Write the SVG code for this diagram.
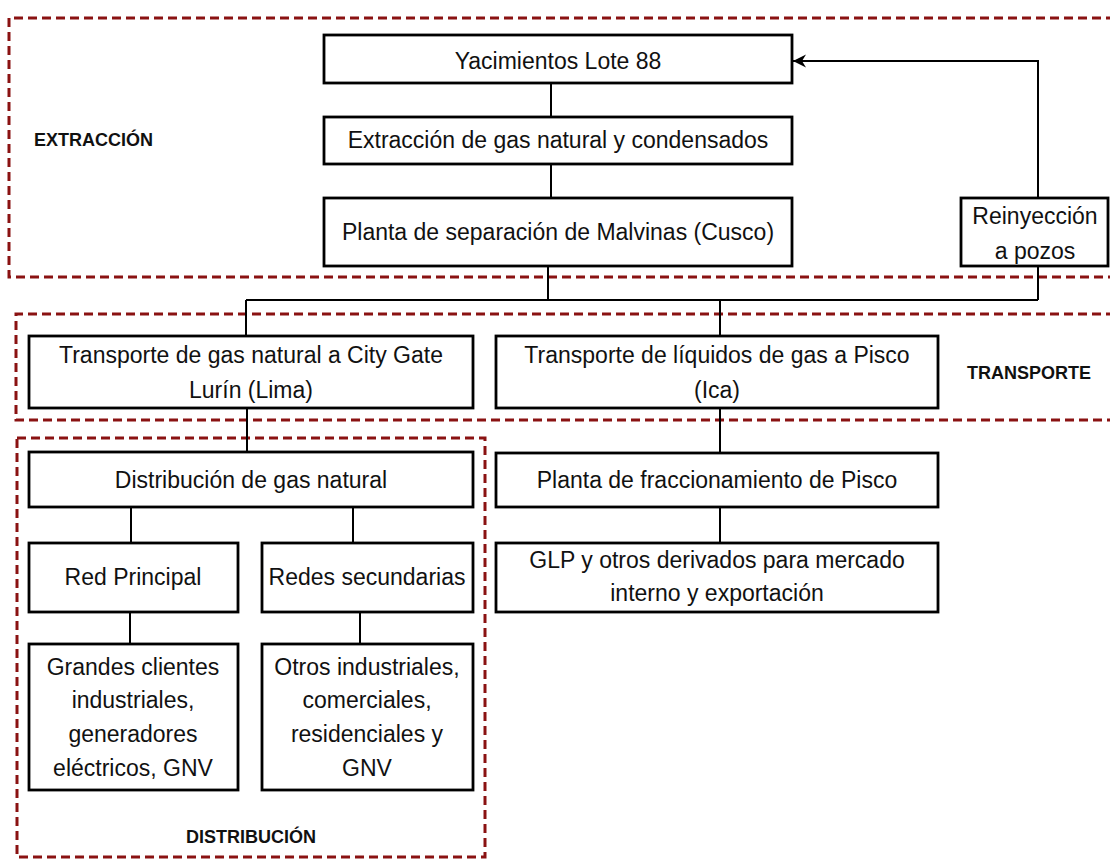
<svg xmlns="http://www.w3.org/2000/svg" width="1110" height="859" viewBox="0 0 1110 859">
<style>
.box{fill:#fff;stroke:#000;stroke-width:2.8}
.t{font-family:"Liberation Sans",Arial,sans-serif;font-size:23px;fill:#111;text-anchor:middle}
.lbl{font-family:"Liberation Sans",Arial,sans-serif;font-size:18px;font-weight:bold;fill:#111}
.zone{fill:none;stroke:#8a1212;stroke-width:3;stroke-dasharray:9 5}
.c{fill:none;stroke:#000;stroke-width:2}
</style>
<defs>
<marker id="arr" markerWidth="16" markerHeight="16" refX="14" refY="8" orient="auto" markerUnits="userSpaceOnUse">
<path d="M14,8 L1,1.5 L5,8 L1,14.5 Z" fill="#000"/>
</marker>
</defs>
<g id="zones">
<path class="zone" d="M1115,18 H9 V277 H1115"/>
<path class="zone" d="M1115,314 H16 V420 H1115"/>
<rect class="zone" x="17" y="438" width="468" height="419"/>
</g>
<g id="connectors">
<path class="c" d="M551,83 V117"/>
<path class="c" d="M551,164 V198"/>
<path class="c" d="M548,266 V300"/>
<path class="c" d="M246,300 H1038"/>
<path class="c" d="M1038,266 V300"/>
<path class="c" d="M1038,198 V61 H793" marker-end="url(#arr)"/>
<path class="c" d="M246,300 V336"/>
<path class="c" d="M720,300 V336"/>
<path class="c" d="M247,408 V452"/>
<path class="c" d="M720,408 V453"/>
<path class="c" d="M131,507 V543"/>
<path class="c" d="M353,507 V543"/>
<path class="c" d="M720,507 V543"/>
<path class="c" d="M130,612 V644"/>
<path class="c" d="M360,612 V644"/>
</g>
<g id="n-yacimientos"><rect class="box" x="324" y="35" width="468" height="48"/><text class="t" x="558" y="69">Yacimientos Lote 88</text></g>
<g id="n-extraccion"><rect class="box" x="324" y="117" width="468" height="47"/><text class="t" x="558" y="148">Extracción de gas natural y condensados</text></g>
<g id="n-planta-sep"><rect class="box" x="324" y="198" width="468" height="68"/><text class="t" x="558" y="240">Planta de separación de Malvinas (Cusco)</text></g>
<g id="n-reinyeccion"><rect class="box" x="961" y="198" width="147" height="68"/><text class="t" x="1035" y="224">Reinyección</text><text class="t" x="1035" y="259">a pozos</text></g>
<g id="n-transp-gas"><rect class="box" x="29" y="336" width="444" height="72"/><text class="t" x="251" y="363">Transporte de gas natural a City Gate</text><text class="t" x="251" y="398">Lurín (Lima)</text></g>
<g id="n-transp-liq"><rect class="box" x="496" y="336" width="442" height="72"/><text class="t" x="717" y="363">Transporte de líquidos de gas a Pisco</text><text class="t" x="717" y="398">(Ica)</text></g>
<g id="n-distribucion"><rect class="box" x="29" y="452" width="444" height="55"/><text class="t" x="251" y="488">Distribución de gas natural</text></g>
<g id="n-planta-fracc"><rect class="box" x="496" y="453" width="442" height="54"/><text class="t" x="717" y="488">Planta de fraccionamiento de Pisco</text></g>
<g id="n-red-principal"><rect class="box" x="29" y="543" width="209" height="69"/><text class="t" x="133" y="585">Red Principal</text></g>
<g id="n-redes-sec"><rect class="box" x="262" y="543" width="211" height="69"/><text class="t" x="367" y="585">Redes secundarias</text></g>
<g id="n-glp"><rect class="box" x="496" y="543" width="442" height="69"/><text class="t" x="717" y="568">GLP y otros derivados para mercado</text><text class="t" x="717" y="601">interno y exportación</text></g>
<g id="n-grandes"><rect class="box" x="29" y="644" width="209" height="146"/><text class="t" x="133" y="675">Grandes clientes</text><text class="t" x="133" y="708">industriales,</text><text class="t" x="133" y="742">generadores</text><text class="t" x="133" y="776">eléctricos, GNV</text></g>
<g id="n-otros"><rect class="box" x="262" y="644" width="211" height="146"/><text class="t" x="367" y="675">Otros industriales,</text><text class="t" x="367" y="708">comerciales,</text><text class="t" x="367" y="742">residenciales y</text><text class="t" x="367" y="776">GNV</text></g>
<g id="labels">
<text class="lbl" x="34" y="146">EXTRACCIÓN</text>
<text class="lbl" x="967" y="379">TRANSPORTE</text>
<text class="lbl" x="251" y="843" text-anchor="middle">DISTRIBUCIÓN</text>
</g>
</svg>
